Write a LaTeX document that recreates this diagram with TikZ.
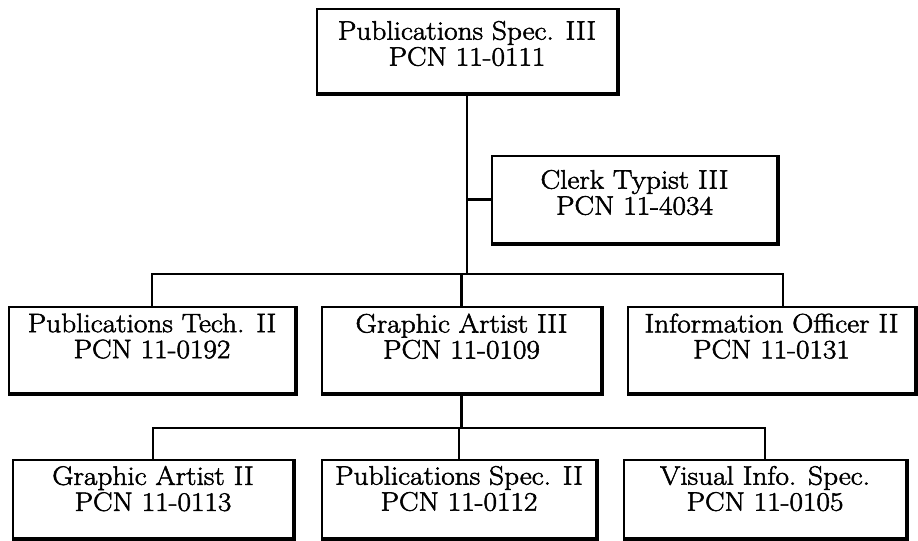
\documentclass[tikz,border=0pt]{standalone}
\usepackage{fontspec}
\setmainfont{Latin Modern Roman}[FakeStretch=1.1, FakeBold=2]
\tikzset{
  box/.style={draw, line width=1.5pt, rectangle, inner sep=0pt,
    font=\fontsize{20pt}{19.5pt}\selectfont},
  conn/.style={line width=2.2pt},
  heavyedge/.style={line width=3.4pt, line join=miter},
}
\newcommand{\bt}[4]{\parbox[c][#2][t]{#1}{\vspace*{#3}\centering #4\par}}
\begin{document}
\begin{tikzpicture}[x=0.75pt,y=-0.75pt]
\useasboundingbox (0,0) rectangle (918,541);
% top
\node[box] (pub3) at (467,51) {\bt{225pt}{63pt}{9pt}{Publications Spec. III\\PCN 11-0111}};
\node[box] (clerk) at (634.5,199.5) {\bt{213.75pt}{65.25pt}{10.5pt}{Clerk Typist III\\PCN 11-4034}};
% row 2
\node[box] (pt2) at (152,350) {\bt{214.5pt}{64.5pt}{5pt}{Publications Tech. II\\PCN 11-0192}};
\node[box] (ga3) at (461.5,350) {\bt{209.25pt}{64.5pt}{5pt}{Graphic Artist III\\PCN 11-0109}};
\node[box] (info) at (771.5,350) {\bt{215.25pt}{64.5pt}{5pt}{Information Officer II\\PCN 11-0131}};
% row 3
\node[box] (ga2) at (153,499) {\bt{210pt}{58.5pt}{4.5pt}{Graphic Artist II\\PCN 11-0113}};
\node[box] (ps2) at (459,499) {\bt{205.5pt}{58.5pt}{4.5pt}{Publications Spec. II\\PCN 11-0112}};
\node[box] (vis) at (765,499) {\bt{211.5pt}{58.5pt}{4.5pt}{Visual Info. Spec.\\PCN 11-0105}};
% heavy bottom/right edges
\foreach \n in {pub3,clerk,pt2,ga3,info,ga2,ps2,vis}
  \draw[heavyedge] (\n.south west) -- (\n.south east) -- (\n.north east);
% connectors
\coordinate (j1) at (467,274);
\coordinate (j2) at (461.5,428);
\draw[conn] (pub3.south) -- (j1);
\draw[conn] (pub3.south |- clerk.west) -- (clerk.west);
\draw[conn] (pt2.north) -- (pt2.north |- j1) -- ([xshift=8.6pt]info.north |- j1) -- ([xshift=8.6pt]info.north);
\draw[conn] (ga3.north) -- (ga3.north |- j1);
\draw[conn] (ga3.south) -- (j2);
\draw[conn] (ga2.north) -- (ga2.north |- j2) -- (vis.north |- j2) -- (vis.north);
\draw[conn] (ps2.north) -- (ps2.north |- j2);
\end{tikzpicture}
\end{document}
